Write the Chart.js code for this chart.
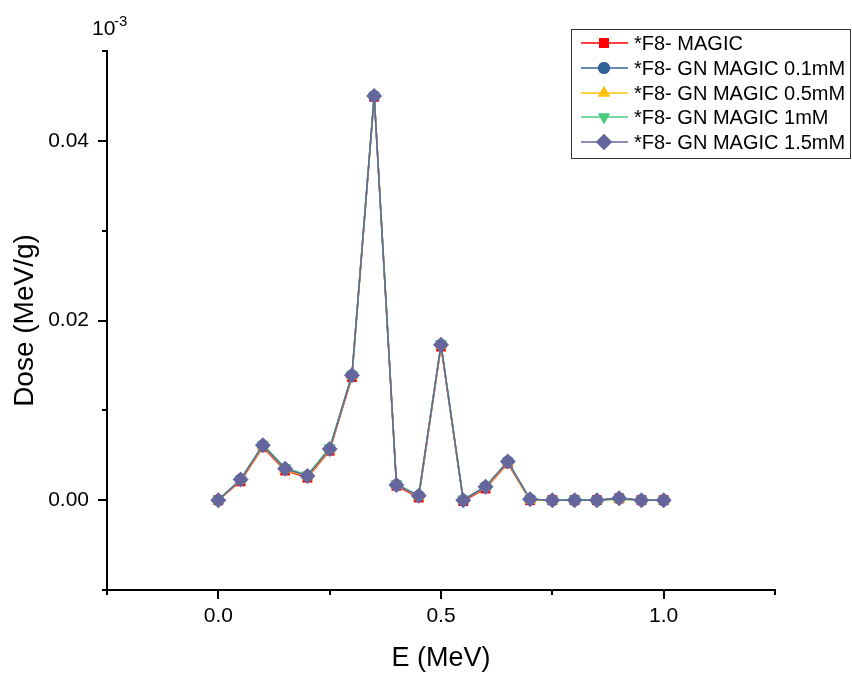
<!DOCTYPE html>
<html>
<head>
<meta charset="utf-8">
<script src="https://cdn.jsdelivr.net/npm/chart.js@4"></script>
<style>
html,body{margin:0;padding:0;background:#fff;}
#wrap{width:852px;height:675px;}
</style>
</head>
<body>
<div id="wrap"><canvas id="canvas" width="852" height="675"></canvas></div>
<script>
const energy=[0,0.05,0.1,0.15,0.2,0.25,0.3,0.35,0.4,0.45,0.5,0.55,0.6,0.65,0.7,0.75,0.8,0.85,0.9,0.95,1.0];
const magic=[0,0.0021,0.0059,0.0033,0.0025,0.0055,0.0137,0.0449,0.0016,0.0003,0.0171,-0.0001,0.0013,0.0041,0,0,0,0,0.0002,0,0];
const gn01=[0,0.0023,0.0061,0.0035,0.0027,0.0057,0.0139,0.045,0.0017,0.0005,0.0173,0,0.0015,0.0043,0.0001,0,0,0,0.0002,0,0];
const gn05=[0,0.0022,0.006,0.0034,0.0026,0.0056,0.0138,0.0451,0.0017,0.0004,0.0172,0,0.0014,0.0042,0,0,0,0,0.0001,0,0];
const gn1=[0,0.0023,0.0062,0.0036,0.0028,0.0058,0.014,0.045,0.0018,0.0005,0.0174,0.0001,0.0015,0.0043,0.0001,0,0.0001,0,0.0001,0,0];
const gn15=[0,0.0023,0.0061,0.0035,0.0027,0.0057,0.0139,0.045,0.0017,0.0005,0.0173,0,0.0015,0.0043,0.0001,0,0,0,0.0002,0,0];
const names=["*F8- MAGIC","*F8- GN MAGIC 0.1mM","*F8- GN MAGIC 0.5mM","*F8- GN MAGIC 1mM","*F8- GN MAGIC 1.5mM"];
const xTicks=[0,0.5,1.0];
const xMinor=[-0.25,0.25,0.75,1.25];
const yTicks=[0,0.02,0.04];
const yMinor=[-0.01,0.01,0.03,0.05];

const FONT='"Liberation Sans",Arial,sans-serif';
const colors=["#ff0000","#34639a","#ffc20e","#4ccb7c","#66669e"];
const shapes=[
    {pointStyle:"rect",pointRadius:7,rotation:0},
    {pointStyle:"circle",pointRadius:6,rotation:0},
    {pointStyle:"triangle",pointRadius:7,rotation:0},
    {pointStyle:"triangle",pointRadius:7,rotation:180},
    {pointStyle:"rectRot",pointRadius:8,rotation:0}
];
const series=[magic,gn01,gn05,gn1,gn15];

function toPoints(vals){
    return energy.map((e,i)=>({x:e,y:vals[i]}));
}

const datasets=series.map((vals,i)=>({
    label:names[i],
    data:toPoints(vals),
    borderColor:colors[i],
    backgroundColor:colors[i],
    borderWidth:1.5,
    pointStyle:shapes[i].pointStyle,
    pointRadius:shapes[i].pointRadius,
    pointRotation:shapes[i].rotation,
    pointBorderWidth:0,
    pointBackgroundColor:colors[i],
    order:5-i
}));

function tick(ctx,x1,y1,x2,y2){
    ctx.beginPath();
    ctx.moveTo(x1,y1);
    ctx.lineTo(x2,y2);
    ctx.stroke();
}

const extras={
    id:"extras",
    afterDraw(chart){
        const ctx=chart.ctx;
        const xs=chart.scales.x;
        const ys=chart.scales.y;
        const a=chart.chartArea;
        ctx.save();
        ctx.strokeStyle="#000";
        ctx.lineWidth=2;
        xTicks.forEach(v=>{const p=Math.round(xs.getPixelForValue(v));tick(ctx,p,a.bottom,p,a.bottom+9);});
        xMinor.forEach(v=>{const p=Math.round(xs.getPixelForValue(v));tick(ctx,p,a.bottom,p,a.bottom+5);});
        yTicks.forEach(v=>{const p=Math.round(ys.getPixelForValue(v));tick(ctx,a.left,p,a.left-9,p);});
        yMinor.forEach(v=>{const p=Math.round(ys.getPixelForValue(v));tick(ctx,a.left,p,a.left-5,p);});
        // 10^-3 factor
        ctx.fillStyle="#000";
        ctx.textBaseline="alphabetic";
        ctx.textAlign="left";
        ctx.font="21px "+FONT;
        ctx.fillText("10",92,35);
        ctx.font="15px "+FONT;
        ctx.fillText("-3",114,26);
        // legend
        const lx=571,ly=29,lw=279,lh=129;
        ctx.lineWidth=1;
        ctx.strokeStyle="#333";
        ctx.strokeRect(lx+0.5,ly+0.5,lw,lh);
        ctx.font="20px "+FONT;
        ctx.textBaseline="middle";
        const rows=[43,68,93,117,142];
        rows.forEach((ry,i)=>{
            ctx.strokeStyle=colors[i];
            ctx.lineWidth=1.5;
            tick(ctx,581,ry,628,ry);
            ctx.fillStyle=colors[i];
            Chart.helpers.drawPoint(ctx,{pointStyle:shapes[i].pointStyle,radius:shapes[i].pointRadius,rotation:shapes[i].rotation,borderWidth:0},604,ry);
            ctx.fill();
            ctx.fillStyle="#000";
            ctx.fillText(names[i],634,ry+1);
        });
        ctx.restore();
    }
};

const ctx=document.getElementById("canvas");
new Chart(ctx,{
    type:"line",
    data:{datasets:datasets},
    options:{
        responsive:false,
        animation:false,
        layout:{padding:{top:51,right:77,left:0,bottom:0}},
        plugins:{legend:{display:false},tooltip:{enabled:false}},
        elements:{line:{tension:0}},
        scales:{
            x:{
                type:"linear",
                min:-0.25,
                max:1.25,
                afterBuildTicks:s=>{s.ticks=xTicks.map(v=>({value:v}));},
                afterFit:s=>{s.height=85;},
                grid:{display:false,drawTicks:false},
                border:{display:true,color:"#000",width:2},
                ticks:{padding:14,color:"#000",font:{family:FONT,size:21},callback:v=>v.toFixed(1),maxRotation:0},
                title:{display:true,text:"E (MeV)",color:"#000",font:{family:FONT,size:27},padding:{top:0,bottom:0}}
            },
            y:{
                type:"linear",
                min:-0.01,
                max:0.05,
                afterBuildTicks:s=>{s.ticks=yTicks.map(v=>({value:v}));},
                afterFit:s=>{s.width=107;},
                grid:{display:false,drawTicks:false},
                border:{display:true,color:"#000",width:2},
                ticks:{padding:18,color:"#000",font:{family:FONT,size:21},callback:v=>v.toFixed(2)},
                title:{display:true,text:"Dose (MeV/g)",color:"#000",font:{family:FONT,size:28},padding:{top:8,bottom:0}}
            }
        }
    },
    plugins:[extras]
});
</script>
</body>
</html>
